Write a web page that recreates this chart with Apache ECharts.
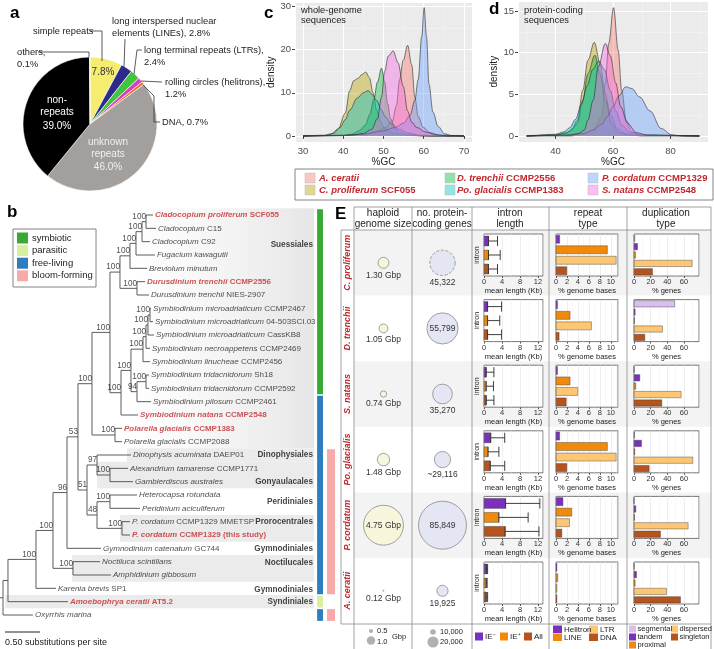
<!DOCTYPE html>
<html><head><meta charset="utf-8">
<script src="https://cdn.jsdelivr.net/npm/echarts@6/dist/echarts.min.js"></script>
<style>html,body{margin:0;padding:0;background:#fff}#c{width:714px;height:649px}</style>
</head><body><div id="c"></div><script>
const FONT = 'Liberation Sans, Arial, sans-serif';

// ---------- panel a : repeat composition ----------
const pieNames = ['simple repeats','LINEs','LTRs','helitrons','DNA','unknown repeats','non-repeats','others'];
const pieValues = [7.8, 2.8, 2.4, 1.2, 0.7, 46.0, 39.0, 0.1];
const pieColors = ['#f6ec6f','#2d2a8c','#41c53f','#d540c0','#f06a2b','#a39f9c','#000000','#f3c4d6'];

// ---------- panels c / d : GC density ----------
const speciesNames = ['A. ceratii','C. proliferum','D. trenchii','Po. glacialis','P. cordatum','S. natans'];
const speciesStrain = ['','SCF055','CCMP2556','CCMP1383','CCMP1329','CCMP2548'];
const speciesColors = ['#F8766D','#B79F00','#00BA38','#00BFC4','#619CFF','#F564E3'];
const gcWholeA = [[30,0],[40,0.1],[45,0.4],[48,1],[50.5,2],[52.2,3.5],[53.2,7],[54,13],[54.9,17.5],[56,21],[57,16.5],[57.8,9],[58.6,4.5],[59.9,2],[61.5,0.8],[64,0.2],[70,0]];
const gcWholeC = [[30,0],[35,0.1],[37,0.5],[38.7,1.6],[40.5,5.3],[41.6,10.5],[42.6,12.8],[43.6,13.3],[44.6,14.2],[45.6,14.8],[46.5,13.5],[47.4,10],[48.3,6],[49.2,3.4],[50.3,1.8],[52,0.7],[55,0.2],[60,0],[70,0]];
const gcWholeD = [[30,0],[40,0.1],[42,0.4],[44,1.2],[45.5,2.5],[46.6,5],[47.6,8.5],[48.5,12.5],[49.5,15.7],[50.3,12.5],[51,7.5],[51.8,4],[52.8,1.8],[54,0.8],[56,0.3],[60,0],[70,0]];
const gcWholePo = [[30,0],[36,0.2],[37.5,0.6],[39.2,2],[40.5,3.8],[41.6,6],[43.5,8.8],[45,10],[46.2,10.5],[47.2,9.6],[48.3,8.2],[49.5,6],[50.5,4.4],[52,2.8],[54,1.5],[56,0.7],[59,0.2],[62,0],[70,0]];
const gcWholeP = [[30,0],[40,0.1],[45,0.4],[50,1.2],[53,2],[55,3],[56.6,4.8],[57.8,8.3],[58.6,13],[59.5,23],[60.1,29.7],[60.7,23],[61.3,12],[62.3,5.5],[63.6,2.2],[65.2,0.5],[67,0.1],[70,0]];
const gcWholeS = [[30,0],[42,0.2],[45,0.6],[47,1.5],[48.5,4],[49.5,9],[50.3,15],[51.2,18.5],[52.4,19.7],[53.6,17],[54.9,11.5],[56,5.8],[57,3.2],[58.2,2],[60.5,0.9],[63,0.3],[66,0],[70,0]];
const gcCodA = [[30,0],[45,0],[50,0.2],[53,0.7],[56.1,2.3],[57.3,6.3],[58.5,11.1],[60.2,15.4],[61.8,10.3],[63,5.5],[64.6,1.9],[66.4,0.5],[70,0.1],[90,0]];
const gcCodC = [[30,0],[40,0.1],[43,0.3],[45.4,0.6],[47.7,1.9],[49.5,5.5],[51.3,9.1],[53.5,11.25],[55.5,8.7],[57.3,5.1],[59.1,2.5],[61.6,0.8],[65,0.2],[70,0],[90,0]];
const gcCodD = [[30,0],[40,0.1],[44,0.4],[46,0.9],[47.7,1.6],[49.5,4.3],[51.3,7.5],[53.7,9.7],[55.5,7.5],[57.3,4.3],[59.6,1.5],[62,0.4],[66,0.1],[90,0]];
const gcCodPo = [[30,0],[40,0.2],[43,0.5],[45,1],[47,2],[49,3.8],[51,6],[53,8],[55,9],[57,8],[59,5.5],[61,3],[63,1.3],[66,0.4],[70,0.1],[90,0]];
const gcCodP = [[30,0],[45,0.1],[50,0.3],[53,0.7],[56,1.4],[58,2.3],[60,3.5],[62,4.8],[64.4,5.9],[66.5,5.7],[69.2,4.7],[72.9,3],[76.7,0.9],[80.4,0.15],[84,0],[90,0]];
const gcCodS = [[30,0],[45,0.1],[48,0.3],[50,0.7],[51.3,1.9],[53.1,4.3],[54.9,8.3],[57.3,11.1],[59.1,9.6],[60.9,6.4],[62.7,3.5],[65.1,1.5],[68.1,0.4],[72,0.1],[90,0]];

// ---------- panel b : phylogeny ----------
const tipItalic = ['Cladocopium proliferum','Cladocopium','Cladocopium','Fugacium kawagutii','Breviolum minutum','Durusdinium trenchii','Durusdinium trenchii','Symbiodinium microadriaticum','Symbiodinium microadriaticum','Symbiodinium microadriaticum','Symbiodinium necroappetens','Symbiodinium linucheae','Symbiodinium tridacnidorum','Symbiodinium tridacnidorum','Symbiodinium pilosum','Symbiodinium natans','Polarella glacialis','Polarella glacialis','Dinophysis acuminata','Alexandrium tamarense','Gambierdiscus australes','Heterocapsa rotundata','Peridinium aciculiferum','P. cordatum','P. cordatum','Gymnodinium catenatum','Noctiluca scintillans','Amphidinium gibbosum','Karenia brevis','Amoebophrya ceratii','Oxyrrhis marina'];
const tipPlain = ['SCF055','C15','C92','','','CCMP2556','NIES-2907','CCMP2467','04-503SCI.03','CassKB8','CCMP2469','CCMP2456','Sh18','CCMP2592','CCMP2461','CCMP2548','CCMP1383','CCMP2088','DAEP01','CCMP1771','','','','CCMP1329 MMETSP','CCMP1329 (this study)','GC744','','','SP1','AT5.2',''];
const tipRed = [1,0,0,0,0,1,0,0,0,0,0,0,0,0,0,1,1,0,0,0,0,0,0,0,1,0,0,0,0,1,0];
const tipDepth = [2.186,2.229,2.143,2.214,2.1,2.071,2.129,2.157,2.186,2.2,2.143,2.143,2.129,2.129,2.157,1.971,1.743,1.743,1.871,1.829,1.9,1.957,2.0,1.857,1.857,1.443,1.429,1.586,0.8,0.971,0.471];
// [node, childA, childB, depth (subst./site), bootstrap]
const treeNodes = [
 ['NA','t0','t1',2.086,'100'],['NB','NA','t2',2.029,'100'],['NC','NB','t3',1.943,'100'],['NS1','NC','t4',1.857,'100'],
 ['NDur','t5','t6',1.957,'100'],['NS3','NS1','NDur',1.714,'100'],
 ['Nm12','t7','t8',2.143,'100'],['Nm123','Nm12','t9',2.114,'100'],['Nmn','Nm123','t10',2.086,'100'],['Nmnl','Nmn','t11',2.043,'100'],
 ['Ntri','t12','t13',2.086,'100'],['Ntp','Ntri','t14',1.957,'94'],['Nsym','Nmnl','Ntp',1.871,'100'],['NSymAll','Nsym','t15',1.729,'100'],
 ['Nsuess','NS3','NSymAll',1.571,'100'],['Npol','t16','t17',1.643,'100'],['Nsp','Nsuess','Npol',1.314,'100'],
 ['Nag','t19','t20',1.571,'100'],['N97','t18','Nag',1.386,'97'],['Nhp','t21','t22',1.571,'100'],['NPc','t23','t24',1.743,'100'],
 ['N48','Nhp','NPc',1.386,'48'],['N51','N97','N48',1.243,'51'],['N53','Nsp','N51',1.114,'53'],['N96','N53','t25',0.957,'96'],
 ['Nnoc','t26','t27',1.043,'100'],['N100b','N96','Nnoc',0.757,'100'],['N100a','N100b','t28',0.514,'100'],
 ['Nin','N100a','t29',0.114,''],['Nroot','Nin','t30',0.043,'']
];
const cladeNames = ['Suessiales','Dinophysiales','Gonyaulacales','Peridiniales','Prorocentrales','Gymnodiniales','Noctilucales','Gymnodiniales','Syndiniales','Oxyrrhinales'];
const cladeRows = [2.25,18,20,21.5,23,25,26.1,28.1,29,30.2];
const cladeBands = [[18,18,1.814],[19,20,1.386],[23,24,1.714],[26,27,1.029],[29,29,0.071]];
const lifestyleTypes = ['symbiotic','parasitic','free-living','bloom-forming'];
const lifestyleColors = ['#39a935','#d8efa0','#2f7dbf','#f8a9aa'];
const lifestyleSegs = [[-0.5,13.5,0],[13.5,28.5,2],[28.5,29.5,1],[29.5,30.5,2]];
const bloomSegs = [[17.5,28.5],[29.5,30.5]];

// ---------- panel E ----------
const eSpecies = ['C. proliferum','D. trenchii','S. natans','Po. glacialis','P. cordatum','A. ceratii'];
const genomeGbp = [1.30, 1.05, 0.74, 1.48, 4.75, 0.12];
const proteinGenes = [45322, 55799, 35270, 29116, 85849, 19925];
const geneApprox = [false,false,false,true,false,false];
const geneDashed = [true,false,false,false,false,false];
const intronCats = ['IE⁻','IE⁺','All'];
const intronMean = [[1.0,1.0,1.0],[0.8,0.8,0.8],[0.5,0.5,0.5],[1.5,0.9,1.4],[4.8,3.3,4.7],[0.6,0.5,0.5]];
const intronUpper = [[3.0,3.6,3.0],[3.9,3.5,3.9],[2.2,2.1,2.2],[4.6,3.3,4.6],[12.4,9.8,12.2],[0.8,0.7,0.8]];
const repeatCats = ['Helitron','LINE','LTR','DNA'];
const repeatPct = [[0.7,9.4,11.0,2.0],[0.3,2.6,6.5,0.6],[0.3,2.6,4.0,1.9],[0.7,9.4,11.0,2.0],[1.3,2.9,2.5,1.1],[0.2,0.35,0.2,0.2]];
const dupCats = ['segmental','tandem','proximal','dispersed','singleton'];
const dupPct = [[1.2,4.4,2.0,70,22.4],[49,1.6,0.8,34.4,13.2],[0.4,7.2,2.4,56.8,33.6],[0.8,9.2,1.2,70.8,18.4],[0.2,2.4,0.8,65.2,32],[0.3,3.2,1.6,39.2,56]];

const PURPLE='#7b2fbe', ORANGE='#f08a0b', LORANGE='#fdc673', BROWN='#b5541c', LPURPLE='#dcbfee';
const intronColors=[PURPLE,ORANGE,BROWN];
const repeatColors=[PURPLE,ORANGE,LORANGE,BROWN];
const dupColors=[LPURPLE,PURPLE,ORANGE,LORANGE,BROWN];
const RED='#c0282d';

// ================= build =================
const chart = echarts.init(document.getElementById('c'), null, {renderer:'canvas', width:714, height:649});
const grids=[], xAxes=[], yAxes=[], series=[], graphics=[];
function addGrid(g, xa, ya){ g.outerBoundsMode='none'; grids.push(g); const i=grids.length-1; xa.gridIndex=i; ya.gridIndex=i; xAxes.push(xa); yAxes.push(ya); return i; }
function T(x,y,text,o){ o=o||{}; graphics.push({type:'text', x, y, z:50, rotation:o.rot||0, style:{text, fill:o.color||'#222', fontSize:o.size||9, fontFamily:FONT, fontWeight:o.weight||'normal', fontStyle:o.style||'normal', align:o.align||'left', textAlign:o.align||'left', verticalAlign:o.va||'middle', textVerticalAlign:o.va||'middle', rich:o.rich}}); }
function L(points, o){ o=o||{}; graphics.push({type:'polyline', z:o.z||40, shape:{points}, style:{stroke:o.color||'#333', lineWidth:o.w||0.8, fill:null}}); }
function R(x,y,w,h,fill,o){ o=o||{}; graphics.push({type:'rect', z:o.z==null?40:o.z, shape:{x,y,width:w,height:h}, style:{fill, stroke:o.stroke||null, lineWidth:o.lw||0.6}}); }
function C(cx,cy,r,fill,o){ o=o||{}; graphics.push({type:'circle', z:40, shape:{cx,cy,r}, style:{fill, stroke:o.stroke||null, lineWidth:0.6}}); }

// ---- panel a
series.push({type:'pie', center:[90,124], radius:67, startAngle:90, clockwise:true, animation:false, silent:true,
  label:{show:false}, labelLine:{show:false},
  itemStyle:{borderColor:'#fff', borderWidth:0.6},
  data: pieValues.map((v,i)=>({name:pieNames[i], value:v, itemStyle:{color:pieColors[i]}}))});
T(10,13,'a',{size:17,weight:'bold',color:'#000'});
const PS=9.3;
T(33,31,'simple repeats',{size:PS}); L([[90,31],[102,31],[102,61]]);
T(112,21,'long interspersed nuclear',{size:PS}); T(112,33,'elements (LINEs), 2.8%',{size:PS}); L([[125,39],[124,67]]);
T(144,50,'long terminal repeats (LTRs),',{size:PS}); T(144,62,'2.4%',{size:PS}); L([[142,50],[137,50],[134,74]]);
T(165,82,'rolling circles (helitrons),',{size:PS}); T(165,94,'1.2%',{size:PS}); L([[162,82],[141,81]]);
T(162,122,'DNA, 0.7%',{size:PS}); L([[143,85],[154,96],[154,122],[160,122]]);
T(17,52,'others,',{size:PS}); T(17,64,'0.1%',{size:PS}); L([[38,52],[89,52],[89,57]]);
T(103,72,'7.8%',{size:10,align:'center',color:'#333'});
T(57,100,'non-',{size:10,align:'center',color:'#fff'}); T(57,112,'repeats',{size:10,align:'center',color:'#fff'}); T(57,126,'39.0%',{size:10,align:'center',color:'#fff'});
T(108,142,'unknown',{size:10,align:'center',color:'#f0f0f0'}); T(108,154,'repeats',{size:10,align:'center',color:'#f0f0f0'}); T(108,167,'46.0%',{size:10,align:'center',color:'#f0f0f0'});

// ---- panels c,d
function densityPanel(g, xr, yr, xs, ys, curves){
  const ax = (name, min, max, sn, gap)=>({type:'value', min, max, splitNumber:sn, name, nameLocation:'middle', nameGap:gap,
    nameTextStyle:{fontSize:10, color:'#222'},
    axisLine:{show:false}, axisTick:{show:true, length:3, lineStyle:{color:'#444'}},
    axisLabel:{showMinLabel:false, showMaxLabel:false, color:'#4d4d4d', fontSize:9.5, margin:4},
    splitLine:{show:true, lineStyle:{color:'#ffffff', width:1}},
    minorTick:{show:false, splitNumber:2}, minorSplitLine:{show:true, lineStyle:{color:'#f6f6f6', width:0.5}}});
  const gi = addGrid(Object.assign({show:true, backgroundColor:'#ebebeb', borderWidth:0}, g),
     ax('%GC', xr[0], xr[1], xs, 8), ax('density', yr[0], yr[1], ys, 12));
  curves.forEach((d,k)=>series.push({type:'line', xAxisIndex:gi, yAxisIndex:gi, data:d, smooth:0.35, smoothMonotone:'x',
     symbol:'none', animation:false, silent:true, lineStyle:{color:'#2a2a2a', width:0.6},
     areaStyle:{color:speciesColors[k], opacity:0.4}, z:3+k}));
}
densityPanel({left:295, top:2, width:177, height:140.5}, [28,72], [-1.5,31], 5, 3, [gcWholeA,gcWholeC,gcWholeD,gcWholePo,gcWholeP,gcWholeS]);
densityPanel({left:518, top:1, width:190, height:141.4}, [27,93], [-0.77,16.2], 3, 3, [gcCodA,gcCodC,gcCodD,gcCodPo,gcCodP,gcCodS]);
T(264,13,'c',{size:17,weight:'bold',color:'#000'});
T(489,9,'d',{size:17,weight:'bold',color:'#000'});
T(301,10,'whole-genome',{size:9.3}); T(301,20,'sequences',{size:9.3});
T(524,10,'protein-coding',{size:9.3}); T(524,20,'sequences',{size:9.3});
// legend of c/d
R(295,169,418,31,'#fff',{stroke:'#666',lw:0.8,z:30});
const legX=[[305,319],[445,457],[588,602]];
speciesNames.forEach((n,i)=>{
  const col=Math.floor(i/2), row=i%2, y= row? 190:178;
  const c=echarts.color.modifyAlpha(speciesColors[i],0.42);
  R(legX[col][0], y-5, 10, 10, c, {stroke:'#bbb', lw:0.5});
  T(legX[col][1], y, '{i|'+n+'}'+(speciesStrain[i]?'{n| '+speciesStrain[i]+'}':''), {size:9.5, rich:{
    i:{fontStyle:'italic', fontWeight:'bold', fill:RED, fontSize:9.5, fontFamily:FONT},
    n:{fontWeight:'bold', fill:RED, fontSize:9.5, fontFamily:FONT}}});
});

// ---- panel b (tree)
const treeGrid = addGrid({left:0, top:215, width:350, height:400, show:false},
  {type:'value', min:0, max:5, show:false}, {type:'value', min:0, max:30, inverse:true, show:false});
const nodeY={}, nodeX={};
tipDepth.forEach((d,i)=>{ nodeY['t'+i]=i; nodeX['t'+i]=d; });
treeNodes.forEach(n=>{ nodeY[n[0]]=(nodeY[n[1]]+nodeY[n[2]])/2; nodeX[n[0]]=n[3]; });
const edges=[];
treeNodes.forEach(n=>{ [n[1],n[2]].forEach(c=>edges.push([n[3], nodeY[n[0]], nodeX[c], nodeY[c]])); });
const rootN = treeNodes[treeNodes.length-1];
edges.push([0, nodeY[rootN[0]], rootN[3], nodeY[rootN[0]]]);
series.push({type:'custom', xAxisIndex:treeGrid, yAxisIndex:treeGrid, z:1, silent:true, animation:false,
  data: [[-0.5,17.5,1.9,1]].concat(cladeBands.map(b=>[b[0]-0.5,b[1]+0.5,b[2],0])),
  renderItem:(p,api)=>{ const a=api.coord([api.value(2), api.value(0)]), b=api.coord([4.486, api.value(1)]);
    const grad = api.value(3)===1;
    return {type:'rect', shape:{x:a[0],y:a[1],width:b[0]-a[0],height:b[1]-a[1]},
      style:{fill: grad? new echarts.graphic.LinearGradient(0,0,1,0,[{offset:0,color:'rgba(236,236,236,0)'},{offset:1,color:'#e6e6e6'}]) : '#ebebeb'}}; }});
series.push({type:'custom', xAxisIndex:treeGrid, yAxisIndex:treeGrid, z:2, silent:true, animation:false,
  data: lifestyleSegs.map(s=>[s[0],s[1],s[2],0]).concat(bloomSegs.map(s=>[s[0],s[1],3,1])),
  renderItem:(p,api)=>{ const col=api.value(3); const x0=col?4.671:4.53, x1=col?4.786:4.614;
    const a=api.coord([x0, api.value(0)+0.06]), b=api.coord([x1, api.value(1)-0.06]);
    return {type:'rect', shape:{x:a[0],y:a[1],width:b[0]-a[0],height:b[1]-a[1]}, style:{fill:lifestyleColors[api.value(2)]}}; }});
series.push({type:'custom', xAxisIndex:treeGrid, yAxisIndex:treeGrid, z:3, silent:true, animation:false, data:edges,
  renderItem:(p,api)=>{ const p1=api.coord([api.value(0),api.value(1)]), p2=api.coord([api.value(0),api.value(3)]), p3=api.coord([api.value(2),api.value(3)]);
    return {type:'polyline', shape:{points:[p1,p2,p3]}, style:{stroke:'#4a4a4a', lineWidth:0.9, fill:null}}; }});
const TF=8;
series.push({type:'scatter', xAxisIndex:treeGrid, yAxisIndex:treeGrid, z:4, silent:true, animation:false, symbolSize:0,
  data: tipDepth.map((d,i)=>({value:[d,i], label:{formatter: tipRed[i] ? '{ri|'+tipItalic[i]+'}'+(tipPlain[i]?'{rn| '+tipPlain[i]+'}':'') : '{i|'+tipItalic[i]+'}'+(tipPlain[i]?'{n| '+tipPlain[i]+'}':'')}})),
  label:{show:true, position:'right', distance:2, rich:{
    i:{fontStyle:'italic', fontSize:TF, color:'#222', fontFamily:FONT},
    n:{fontSize:TF, color:'#222', fontFamily:FONT},
    ri:{fontStyle:'italic', fontWeight:'bold', fontSize:TF, color:RED, fontFamily:FONT},
    rn:{fontWeight:'bold', fontSize:TF, color:RED, fontFamily:FONT}}}});
series.push({type:'scatter', xAxisIndex:treeGrid, yAxisIndex:treeGrid, z:4, silent:true, animation:false, symbolSize:0,
  data: treeNodes.filter(n=>n[4]).map(n=>({value:[n[3], nodeY[n[0]]], name:n[4]})),
  label:{show:true, position:'left', distance:0, offset:[0,-5], formatter:'{b}', fontSize:8.2, color:'#222', fontFamily:FONT}});
series.push({type:'scatter', xAxisIndex:treeGrid, yAxisIndex:treeGrid, z:4, silent:true, animation:false, symbolSize:0,
  data: cladeRows.map((r,i)=>({value:[4.471, r], name:cladeNames[i]})),
  label:{show:true, position:'left', distance:0, formatter:'{b}', fontSize:8.2, fontWeight:'bold', color:'#111', fontFamily:FONT}});
T(7,212,'b',{size:17,weight:'bold',color:'#000'});
R(13,229,83,58,'#fff',{stroke:'#666',lw:0.8,z:30});
lifestyleTypes.forEach((t,i)=>{ const y=238+i*12.6; R(17,y-5.5,11,11,lifestyleColors[i]); T(32,y,t,{size:9.5}); });
L([[5,632],[40,632]],{w:1.2,color:'#222'});
T(5,643,'0.50 substitutions per site',{size:9});

// ---- panel E
const rowH=65.6, rowTop0=230;
eSpecies.forEach((s,k)=>{ if(k%2===0) R(354, rowTop0+k*rowH, 357, rowH, '#f3f3f3', {z:-5}); });
T(335,214,'E',{size:17,weight:'bold',color:'#000'});
const hdr=[[383,'haploid','genome size'],[442,'no. protein-','coding genes'],[510,'intron','length'],[588,'repeat','type'],[666,'duplication','type']];
hdr.forEach(h=>{ T(h[0],213,h[1],{size:10,align:'center'}); T(h[0],224,h[2],{size:10,align:'center'}); });
const GC='#8a8a8a';
L([[354,207],[711,207]],{color:GC}); L([[341,230],[711,230]],{color:GC}); L([[341,624],[711,624]],{color:GC});
L([[341,230],[341,624]],{color:GC});
[354,412,472,549,627,711].forEach(x=>L([[x,207],[x,649]],{color:GC}));
eSpecies.forEach((s,k)=>T(348, rowTop0+(k+0.5)*rowH, s, {size:9, weight:'bold', style:'italic', color:RED, align:'center', rot:Math.PI/2}));

const bub = addGrid({left:354, top:230, width:118, height:393.6, show:false},
  {type:'category', data:['genome','genes'], show:false}, {type:'category', data:eSpecies, inverse:true, show:false});
const gR = v=>v*4.2, nR = v=>v/85849*24;
series.push({type:'scatter', xAxisIndex:bub, yAxisIndex:bub, z:5, silent:true, animation:false,
  symbolSize:(val)=>2*gR(val[2]),
  itemStyle:{color:'#f7f6dc', borderColor:'#8a8a8a', borderWidth:0.8, opacity:1},
  data: genomeGbp.map((v,k)=>({value:[0,k,v], label:{position: gR(v)>15?'inside':'bottom'}})),
  label:{show:true, distance:2, formatter:p=>p.value[2].toFixed(2)+' Gbp', fontSize:8.5, color:'#333', fontFamily:FONT}});
series.push({type:'scatter', xAxisIndex:bub, yAxisIndex:bub, z:5, silent:true, animation:false,
  symbolSize:(val)=>2*nR(val[2]),
  data: proteinGenes.map((v,k)=>({value:[1,k,v], label:{position: nR(v)>15?'inside':'bottom'},
     itemStyle:{color:'#e4e6f4', borderColor:'#8a8a8a', borderWidth:0.8, borderType: geneDashed[k]?'dashed':'solid', opacity:1}})),
  label:{show:true, distance:2, formatter:p=>(geneApprox[p.dataIndex]?'~':'')+p.value[2].toLocaleString('en-US'), fontSize:8.5, color:'#333', fontFamily:FONT}});

function xSmall(max, interval, name){ return {type:'value', min:0, max, interval, name, nameLocation:'middle', nameGap:9,
  nameTextStyle:{fontSize:7.5, color:'#222'}, axisLine:{show:false}, axisTick:{show:true, length:2, lineStyle:{color:'#555'}},
  axisLabel:{fontSize:7.5, color:'#333', margin:2, showMaxLabel:false},
  splitLine:{show:true, lineStyle:{color:'#e2e2e2', width:0.6}}, minorTick:{show:false, splitNumber:2},
  minorSplitLine:{show:true, lineStyle:{color:'#f1f1f1', width:0.5}}}; }
function ySmall(cats, name){ return {type:'category', data:cats, inverse:true, name:name||'', nameLocation:'middle', nameGap:3,
  nameRotate:90, nameTextStyle:{fontSize:7, color:'#222'}, axisLine:{show:false}, axisTick:{show:false}, axisLabel:{show:false}, splitLine:{show:false}}; }
const gridBox={show:true, backgroundColor:'#fff', borderColor:'#555', borderWidth:0.8, height:42};
const errRender=(p,api)=>{ const a=api.coord([api.value(0),api.value(1)]), b=api.coord([api.value(2),api.value(1)]); const h=api.size([0,1])[1]*0.36;
  const st={stroke:'#2a2a2a', lineWidth:0.9};
  return {type:'group', children:[
    {type:'line', shape:{x1:a[0],y1:a[1],x2:b[0],y2:b[1]}, style:st},
    {type:'line', shape:{x1:a[0],y1:a[1]-h,x2:a[0],y2:a[1]+h}, style:st},
    {type:'line', shape:{x1:b[0],y1:b[1]-h,x2:b[0],y2:b[1]+h}, style:st}]}; };
eSpecies.forEach((s,k)=>{
  const top = 234 + k*rowH;
  let gi = addGrid(Object.assign({left:484, width:59, top}, gridBox), xSmall(13.1,4,'mean length (Kb)'), ySmall(intronCats,'intron'));
  series.push({type:'bar', xAxisIndex:gi, yAxisIndex:gi, barWidth:'74%', silent:true, animation:false,
    itemStyle:{borderColor:'#333', borderWidth:0.4},
    data:intronMean[k].map((v,j)=>({value:v, itemStyle:{color:intronColors[j]}}))});
  series.push({type:'custom', xAxisIndex:gi, yAxisIndex:gi, z:4, silent:true, animation:false, encode:{x:0,y:1},
    data:intronMean[k].map((v,j)=>[v,j,intronUpper[k][j]]), renderItem:errRender});
  gi = addGrid(Object.assign({left:556, width:62, top}, gridBox), xSmall(11.3,2,'% genome bases'), ySmall(repeatCats));
  series.push({type:'bar', xAxisIndex:gi, yAxisIndex:gi, barWidth:'80%', silent:true, animation:false,
    itemStyle:{borderColor:'#333', borderWidth:0.4},
    data:repeatPct[k].map((v,j)=>({value:v, itemStyle:{color:repeatColors[j]}}))});
  gi = addGrid(Object.assign({left:634, width:65, top}, gridBox), xSmall(78,20,'% genes'), ySmall(dupCats));
  series.push({type:'bar', xAxisIndex:gi, yAxisIndex:gi, barWidth:'80%', silent:true, animation:false,
    itemStyle:{borderColor:'#333', borderWidth:0.4},
    data:dupPct[k].map((v,j)=>({value:v, itemStyle:{color:dupColors[j]}}))});
});

C(371,631,gR(0.5),'#b0b0b0'); T(377,631,'0.5',{size:7.5});
C(371,640.5,gR(1.0),'#b0b0b0'); T(377,642,'1.0',{size:7.5}); T(392,637,'Gbp',{size:7.5});
C(433,632,nR(10000),'#b0b0b0'); T(440,632,'10,000',{size:7.5});
C(433,642,nR(20000),'#b0b0b0'); T(440,642,'20,000',{size:7.5});
intronCats.forEach((c,i)=>{ const x=[475,500,524][i]; R(x,632.5,8,8,intronColors[i]); T(x+10,637,c,{size:8}); });
repeatCats.forEach((c,i)=>{ const x=i===0||i===1?553:589; const y=(i===0||i===2)?629:637; R(x,y-3.5,9,7.5,repeatColors[i]); T(x+11,y+0.5,c,{size:8}); });
dupCats.forEach((c,i)=>{ const pos=[[629,629],[629,637],[629,645],[671,629],[671,637]][i]; R(pos[0],pos[1]-3.5,7,7,dupColors[i]); T(pos[0]+8.5,pos[1],c,{size:7.5}); });

chart.setOption({
  animation:false,
  textStyle:{fontFamily:FONT},
  grid:grids, xAxis:xAxes, yAxis:yAxes, series,
  graphic:{elements:graphics}
});
</script></body></html>
